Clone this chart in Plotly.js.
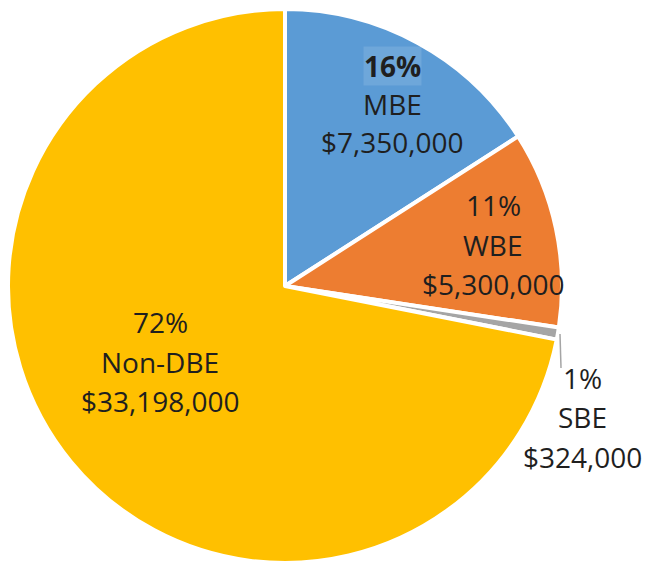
<!DOCTYPE html>
<html>
<head>
<meta charset="utf-8">
<script src="https://cdn.plot.ly/plotly-3.0.1.min.js"></script>
<style>html,body{margin:0;padding:0;background:#fff;}#chart{width:647px;height:563px;}</style>
</head>
<body>
<div id="chart"></div>
<script>
// Data
var categories = ['MBE', 'WBE', 'SBE', 'Non-DBE'];
var amounts = [7350000, 5300000, 324000, 33198000];
var colors = ['#5B9BD5', '#ED7D31', '#A5A5A5', '#FFC000'];

var W = 647, H = 563;
var total = amounts.reduce(function(a, b) { return a + b; }, 0);
function pct(v) { return Math.round(v / total * 100) + '%'; }
function money(v) { return '$' + v.toLocaleString('en-US'); }

var trace = {
  type: 'pie',
  labels: categories,
  values: amounts,
  sort: false,
  direction: 'clockwise',
  rotation: 0,
  textinfo: 'none',
  hoverinfo: 'label+percent+value',
  marker: { colors: colors, line: { color: '#ffffff', width: 4 } },
  domain: { x: [8 / W, 562 / W], y: [0, 1 - 9 / H] }
};

// label line positions (pixel centers) per category
var labelPos = [
  { x: 392, ys: [66, 104, 142] },
  { x: 493, ys: [205, 245, 284] },
  { x: 582, ys: [378, 417, 457] },
  { x: 160, ys: [322, 362, 401] }
];

var annotations = [];
categories.forEach(function(c, i) {
  var lines = [pct(amounts[i]), c, money(amounts[i])];
  lines.forEach(function(t, j) {
    var a = {
      xref: 'paper', yref: 'paper',
      x: labelPos[i].x / W, y: 1 - labelPos[i].ys[j] / H,
      xanchor: 'center', yanchor: 'middle',
      text: t, showarrow: false,
      font: { family: 'Open Sans, sans-serif', size: 28, color: '#1f1f1f' }
    };
    if (i === 0 && j === 0) {
      a.text = '<b>' + t + '</b>';
      a.bgcolor = 'rgba(255,255,255,0.12)';
      a.borderpad = 0;
    }
    annotations.push(a);
  });
});

var layout = {
  width: W, height: H,
  margin: { l: 0, r: 0, t: 0, b: 0 },
  paper_bgcolor: '#ffffff',
  showlegend: false,
  annotations: annotations,
  shapes: [{
    type: 'line', xref: 'paper', yref: 'paper',
    x0: 560 / W, y0: 1 - 334 / H, x1: 561 / W, y1: 1 - 368 / H,
    line: { color: '#A5A5A5', width: 1.5 }
  }]
};

Plotly.newPlot('chart', [trace], layout, { displayModeBar: false, staticPlot: true });
</script>
</body>
</html>
